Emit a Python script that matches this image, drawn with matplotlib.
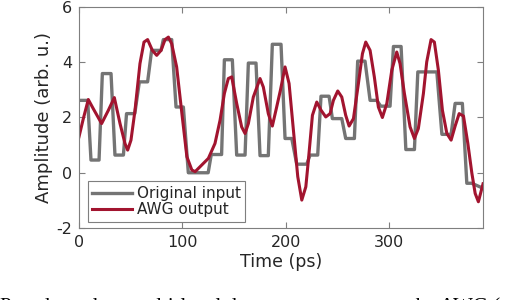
import matplotlib.pyplot as plt

# original input (stepped), vertices
gray_t = [0, 8.4, 11.6, 19.4, 22.6, 31, 34.8, 43, 46, 54, 58.4, 66.4, 70.3, 79.4,
          81.6, 89.7, 93.9, 101, 105.8, 125, 128, 138, 140.7, 148.4, 152.6, 160.7,
          163.9, 171.3, 175.2, 183.2, 187.1, 195.5, 199.4, 205.9, 210.7, 220.4,
          223.6, 231, 234.2, 242, 245.2, 254.3, 258.1, 266.5, 269.7, 276.8, 281.7,
          288.2, 292, 301, 304.3, 311.7, 316.3, 324.6, 327.9, 346.3, 351.2, 360.1,
          364, 371, 375.3, 380, 391]
gray_v = [2.62, 2.62, 0.46, 0.46, 3.59, 3.59, 0.64, 0.64, 2.14, 2.14, 3.29, 3.29,
          4.43, 4.43, 4.82, 4.82, 2.38, 2.38, 0.0, 0.0, 0.66, 0.66, 4.09, 4.09,
          0.64, 0.64, 3.97, 3.97, 0.62, 0.62, 4.65, 4.65, 1.24, 1.24, 0.31, 0.31,
          0.64, 0.64, 2.77, 2.77, 1.96, 1.96, 1.24, 1.24, 4.04, 4.04, 2.62, 2.62,
          2.41, 2.41, 4.57, 4.57, 0.84, 0.84, 3.65, 3.65, 1.39, 1.39, 2.51, 2.51,
          -0.38, -0.38, -0.56]

# AWG output
awg_t = [0, 4.2, 9.0, 13.8, 21.9, 28.4, 34.2, 39.7, 44.5, 47.1, 50.3, 54.2, 59,
         62.9, 66.4, 71, 75.2, 79.4, 83.3, 86.5, 89.7, 94.5, 99.4, 104.4, 109.2,
         112.4, 117.2, 125.2, 131.6, 136.5, 140.7, 144.5, 147.8, 152.6, 157.4,
         160.7, 163.9, 168.7, 175.2, 178.4, 183.2, 187.1, 191.3, 195, 199.4, 203.3,
         207.5, 211.7, 215.6, 219.5, 222, 225.9, 230.1, 234.3, 238.8, 243, 246.2,
         250.4, 254.3, 258.1, 261.4, 265.6, 270.4, 274.3, 277.5, 281.7, 285.8,
         289.7, 293.6, 297.9, 302.7, 307.5, 310.7, 314.9, 320.4, 324.6, 328.4,
         333.3, 336.5, 340.7, 343.9, 347.8, 351.7, 356, 360.1, 364, 367.9, 372.1,
         376.3, 380.2, 383.4, 386.5, 391]
awg_v = [1.30, 1.96, 2.65, 2.32, 1.78, 2.26, 2.72, 1.78, 1.06, 0.82, 1.18, 2.26, 3.95,
         4.73, 4.82, 4.43, 4.25, 4.43, 4.82, 4.91, 4.67, 3.83, 2.2, 0.58, 0.10,
         0.04, 0.22, 0.52, 1.06, 1.90, 2.87, 3.41, 3.47, 2.51, 1.66, 1.42, 1.78,
         2.74, 3.41, 3.10, 2.14, 1.69, 2.38, 3.0, 3.83, 3.23, 1.54, -0.14, -0.99,
         -0.51, 0.46, 2.08, 2.56, 2.26, 2.02, 2.14, 2.62, 2.96, 2.74, 2.08, 1.69,
         1.96, 3.23, 4.31, 4.73, 4.43, 3.47, 2.38, 2.0, 2.51, 3.71, 4.37, 3.95,
         2.87, 1.66, 1.24, 1.60, 2.87, 4.01, 4.82, 4.73, 3.71, 2.26, 1.42, 1.18,
         1.69, 2.14, 2.05, 1.06, -0.02, -0.75, -1.05, -0.4]

x_ticks = [0, 100, 200, 300]
y_ticks = [-2, 0, 2, 4, 6]

plt.rcParams['font.family'] = 'DejaVu Sans'
plt.rcParams['axes.unicode_minus'] = False

fig = plt.figure(figsize=(5.18, 3.0), dpi=100)
ax = fig.add_axes([0.1525, 0.24, 0.78, 0.7367])

ax.plot(gray_t, gray_v, color='#747474', lw=2.4, label='Original input')
ax.plot(awg_t, awg_v, color='#a2142f', lw=2.2, label='AWG output')

ax.set_xlim(0, 391)
ax.set_ylim(-2, 6)
ax.set_xticks(x_ticks)
ax.set_yticks(y_ticks)
ax.tick_params(direction='in', top=True, right=True, length=4, width=0.8,
               color='#7f7f7f', labelcolor='#262626', labelsize=11.5, pad=5)
for s in ax.spines.values():
    s.set_color('#7f7f7f')
    s.set_linewidth(0.8)

ax.set_xlabel('Time (ps)', color='#262626', fontsize=12.5, labelpad=2)
ax.set_ylabel('Amplitude (arb. u.)', color='#262626', fontsize=13, labelpad=2)

leg = ax.legend(loc='lower left', bbox_to_anchor=(0.022, 0.027), borderaxespad=0,
                fancybox=False, edgecolor='#7f7f7f', framealpha=1,
                handlelength=2.6, handletextpad=0.3, borderpad=0.3,
                labelspacing=0.1, fontsize=11)
leg.get_frame().set_linewidth(0.8)
for t in leg.get_texts():
    t.set_color('#262626')

# caption of the source figure, cut off by the image edge
fig.text(0.0, 0.008, 'Pseudorandom multi-level data sequence sent to the AWG (upper)',
         family='Liberation Serif', fontsize=15, va='top', ha='left', color='black')

fig.savefig('out.png', dpi=100)
